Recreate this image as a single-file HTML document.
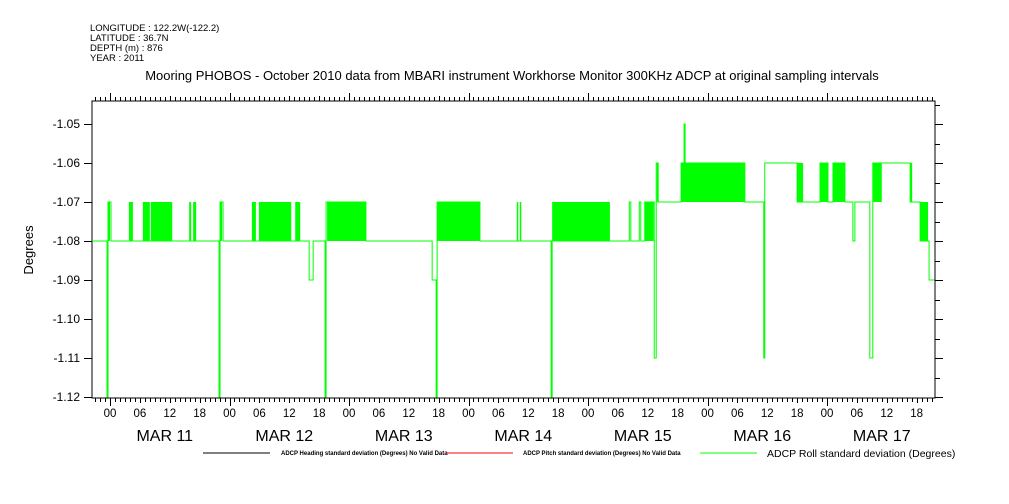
<!DOCTYPE html>
<html><head><meta charset="utf-8"><style>
body{margin:0;background:#fff;}
svg{display:block;font-family:"Liberation Sans",sans-serif;}
</style></head><body>
<svg id="chart" width="1009" height="504" viewBox="0 0 1009 504" xmlns="http://www.w3.org/2000/svg">
<g font-size="9.5" fill="#000">
<text x="90" y="31">LONGITUDE : 122.2W(-122.2)</text>
<text x="90" y="41">LATITUDE : 36.7N</text>
<text x="90" y="51">DEPTH (m) : 876</text>
<text x="90" y="61">YEAR : 2011</text>
</g>
<text x="512" y="80" font-size="13" text-anchor="middle">Mooring PHOBOS - October 2010 data from MBARI instrument Workhorse Monitor 300KHz ADCP at original sampling intervals</text>
<text transform="translate(33,250) rotate(-90)" font-size="13" text-anchor="middle">Degrees</text>
<g id="axes"></g>
<g id="marks"></g>
<g>
<line x1="203" y1="453" x2="270" y2="453" stroke="#000"/>
<text x="281" y="455" font-size="6" font-weight="bold">ADCP Heading standard deviation (Degrees) No Valid Data</text>
<line x1="446" y1="453" x2="513" y2="453" stroke="#f00"/>
<text x="523" y="455" font-size="6" font-weight="bold">ADCP Pitch standard deviation (Degrees) No Valid Data</text>
<line x1="700" y1="453" x2="757" y2="453" stroke="#0f0"/>
<text x="767" y="457" font-size="10.5">ADCP Roll standard deviation (Degrees)</text>
</g>
</svg>
<script>
// step series: time in hours from MAR 11 00, value
const stepT=[-3.6,-0.6,-0.4,0.2,21.9,22.1,22.7,40.0,40.8,43.2,43.4,51.4,64.7,65.5,65.7,74.3,88.6,88.8,100.4,104.3,104.6,106.3,106.6,107.4,109.3,109.7,110.1,114.7,115.3,115.5,127.5,131.3,131.5,138.0,139.2,142.6,144.2,145.2,147.6,149.2,149.6,152.6,153.2,155.0,160.7,161.1,162.7,164.3,164.5,164.9];
const stepV=[-1.08,-1.12,-1.07,-1.08,-1.12,-1.07,-1.08,-1.09,-1.08,-1.12,-1.07,-1.08,-1.09,-1.12,-1.07,-1.08,-1.12,-1.08,-1.08,-1.07,-1.08,-1.07,-1.08,-1.07,-1.11,-1.06,-1.07,-1.06,-1.05,-1.06,-1.07,-1.11,-1.06,-1.07,-1.07,-1.06,-1.07,-1.06,-1.07,-1.08,-1.07,-1.11,-1.06,-1.06,-1.07,-1.07,-1.08,-1.08,-1.09,-1.09];
// rapidly oscillating periods
const bandT0=[-0.4,3.8,6.6,8.2,15.9,16.7,22.1,28.5,29.9,37.2,43.6,65.7,81.7,82.3,88.8,107.4,109.8,114.7,138.0,142.6,145.2,153.2,160.7,162.7];
const bandT1=[0.0,4.6,8.0,12.5,16.3,17.3,22.5,29.3,36.4,38.2,51.4,74.3,82.0,82.6,100.4,109.2,110.1,127.5,139.2,144.2,147.6,155.0,161.1,164.3];
const bandLo=[-1.08,-1.08,-1.08,-1.08,-1.08,-1.08,-1.08,-1.08,-1.08,-1.08,-1.08,-1.08,-1.08,-1.08,-1.08,-1.08,-1.07,-1.07,-1.07,-1.07,-1.07,-1.07,-1.07,-1.08];
const bandHi=[-1.07,-1.07,-1.07,-1.07,-1.07,-1.07,-1.07,-1.07,-1.07,-1.07,-1.07,-1.07,-1.07,-1.07,-1.07,-1.07,-1.06,-1.06,-1.06,-1.06,-1.06,-1.06,-1.06,-1.07];
const yTicks=[-1.05,-1.06,-1.07,-1.08,-1.09,-1.10,-1.11,-1.12];
const yLabels=["-1.05","-1.06","-1.07","-1.08","-1.09","-1.10","-1.11","-1.12"];
const hourLabels=["00","06","12","18"];
const dayLabels=["MAR 11","MAR 12","MAR 13","MAR 14","MAR 15","MAR 16","MAR 17"];

const L=92,R=935,T=101,B=398;
const X=h=>110+h*119.5/24;
const Y=v=>241-(v+1.08)/0.01*39;
const NS="http://www.w3.org/2000/svg";
function mk(tag,attrs,parent){const e=document.createElementNS(NS,tag);for(const k in attrs)e.setAttribute(k,attrs[k]);parent.appendChild(e);return e;}
const axes=document.getElementById('axes'),marks=document.getElementById('marks');

const frame=mk('path',{d:`M${L} ${T}H${R}V${B}H${L}Z`,fill:'none',stroke:'#000','stroke-width':1},axes);


let tp='';
for(let h=-3;h<=165;h++){const x=Math.round(X(h))+0.5;let len=(h%24===0)?8:(h%6===0?5:4);
 tp+=`M${x} ${B}v${len}M${x} ${T}v${-len}`;}
for(let i=0;i<yTicks.length;i++){const y=Math.round(Y(yTicks[i]))+0.5;tp+=`M${L} ${y}h-8M${R} ${y}h8`;
 const y2=Math.round(Y(yTicks[i]+0.005))+0.5; if(yTicks[i]+0.005<-1.044) tp+=`M${R} ${y2}h5`;}
const ticks=mk('path',{d:tp,stroke:'#000','stroke-width':1,fill:'none'},axes);


for(let i=0;i<yTicks.length;i++){
 const t=mk('text',{x:L-12,y:Y(yTicks[i])+4,'font-size':12,'text-anchor':'end'},axes);t.textContent=yLabels[i];
 
 
}
for(let d=0;d<dayLabels.length;d++){
 for(let k=0;k<hourLabels.length;k++){
  const t=mk('text',{x:X(d*24+k*6),y:417,'font-size':11.5,'text-anchor':'middle'},axes);t.textContent=hourLabels[k];
  
  
 }
 const t=mk('text',{x:X(d*24+11),y:441,'font-size':16,'text-anchor':'middle'},axes);t.textContent=dayLabels[d];
 
 
}
for(let i=0;i<bandT0.length;i++){
 const x0=X(bandT0[i]),x1=X(bandT1[i]);
 const r=mk('rect',{x:x0,y:Y(bandHi[i]),width:Math.max(1.5,x1-x0),height:Y(bandLo[i])-Y(bandHi[i]),fill:'#00ff00'},marks);
 
 
}
let d=`M${X(stepT[0])} ${Y(stepV[0])}`;
for(let i=1;i<stepT.length;i++){d+=`H${X(stepT[i])}V${Y(stepV[i])}`;}
d+=`H${X(165.6)}`;
const line=mk('path',{d:d,fill:'none',stroke:'#00ff00','stroke-width':1},marks);


</script>
</body></html>
